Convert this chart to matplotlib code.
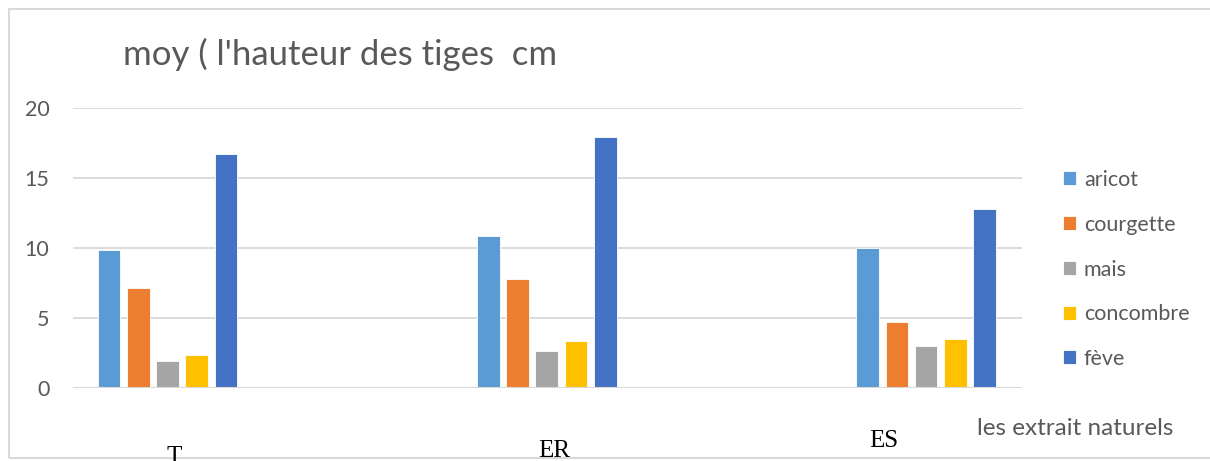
import matplotlib
matplotlib.use("Agg")
import matplotlib.pyplot as plt
from matplotlib.patches import Rectangle
import numpy as np

# Data: mean stem height (cm) per natural extract and crop
categories = ["T", "ER", "ES"]
series_names = ["aricot", "courgette", "mais", "concombre", "fève"]
aricot = [9.9, 10.85, 10.0]
courgette = [7.15, 7.8, 4.75]
mais = [1.95, 2.7, 3.0]
concombre = [2.4, 3.4, 3.5]
feve = [16.75, 17.95, 12.8]
series_values = [aricot, courgette, mais, concombre, feve]
colors = ["#5B9BD5", "#ED7D31", "#A5A5A5", "#FFC000", "#4472C4"]
y_ticks = [0, 5, 10, 15, 20]

# category label offsets (points) relative to each category centre
label_offsets = [(4.7, -54), (5.4, -49.2), (-30.2, -42)]

plt.rcParams["font.family"] = ["Lato", "DejaVu Sans"]
grey = "#595959"

fig = plt.figure(figsize=(12.10, 4.61), dpi=100)
ax = fig.add_axes([73 / 1210, 1 - 388.3 / 461, (1022 - 73) / 1210, 280 / 461])
ax.set_zorder(2)

x = np.arange(len(categories))
width = 0.0598
pitch = 0.077
for i, (name, vals, c) in enumerate(zip(series_names, series_values, colors)):
    ax.bar(x + (i - 2) * pitch, vals, width=width, color=c, label=name,
           edgecolor="white", linewidth=0.6, zorder=3)

ax.set_ylim(0, 20)
ax.set_xlim((73 - 167.5) / 379.3, (1022 - 167.5) / 379.3)
ax.set_yticks(y_ticks)
ax.set_yticklabels([str(v) for v in y_ticks], fontsize=15.5, color=grey)
ax.tick_params(axis="y", length=0, pad=17)
ax.set_xticks([])
ax.yaxis.grid(True, color="#d9d9d9", linewidth=1.3, zorder=0)
for s in ax.spines.values():
    s.set_visible(False)
ax.axhline(0, color="#d9d9d9", linewidth=1.5, zorder=4)

# category labels in serif
for xi, lab, (dx, dy) in zip(x, categories, label_offsets):
    ax.annotate(lab, xy=(xi, 0), xycoords="data", xytext=(dx, dy),
                textcoords="offset points", ha="center", va="baseline",
                fontsize=18, family="Liberation Serif", color="black",
                annotation_clip=False)

# title and axis title
fig.text(123 / 1210, 1 - 65 / 461, "moy ( l'hauteur des tiges  cm",
         fontsize=25, color=grey, ha="left", va="baseline")
fig.text(977 / 1210, 1 - 434.5 / 461, "les extrait naturels",
         fontsize=17.5, color=grey, ha="left", va="baseline")

leg = ax.legend(loc="upper left", bbox_to_anchor=(1063 / 1210, 1 - 170 / 461),
                bbox_transform=fig.transFigure, frameon=False, fontsize=15.5,
                handlelength=0.62, handleheight=0.62, handletextpad=0.35,
                labelspacing=1.15, borderpad=0, borderaxespad=0)
for t in leg.get_texts():
    t.set_color(grey)

# chart border
fig.patches.append(Rectangle((8.5 / 1210, 1 - 457.5 / 461), 1.2, (457.5 - 9) / 461,
                             transform=fig.transFigure, fill=False,
                             edgecolor="#d9d9d9", linewidth=1.5, zorder=1))

fig.savefig("out.png", dpi=100)
